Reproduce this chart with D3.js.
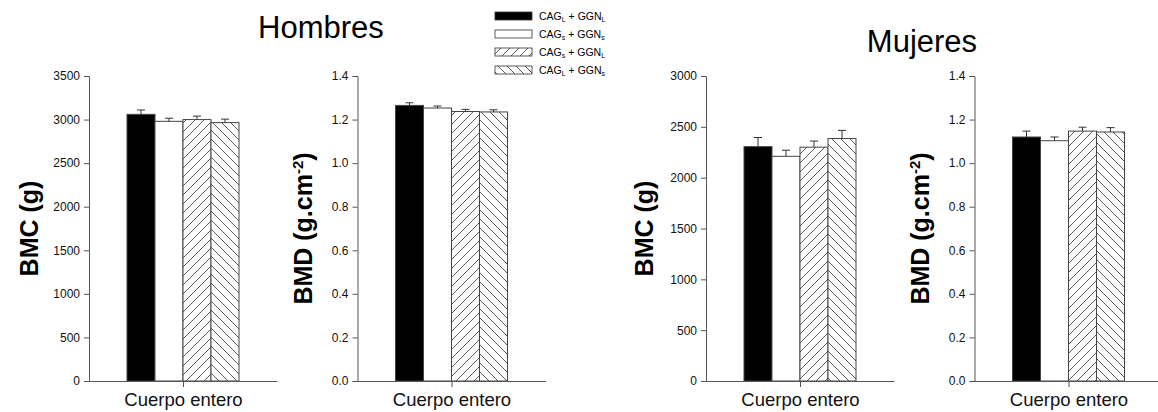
<!DOCTYPE html>
<html>
<head>
<meta charset="utf-8">
<script src="https://cdn.jsdelivr.net/npm/d3@7"></script>
<style>
  body { margin: 0; background: #fff; }
  svg { display: block; font-family: "Liberation Sans", Arial, sans-serif; }
</style>
</head>
<body>
<svg id="chart" width="1158" height="412"></svg>
<script>
// Genotype groups (legend order)
const groups = ["CAGL_GGNL", "CAGs_GGNs", "CAGs_GGNL", "CAGL_GGNs"];
const groupLabels = [["CAG", "L", " + GGN", "L"], ["CAG", "s", " + GGN", "s"], ["CAG", "s", " + GGN", "L"], ["CAG", "L", " + GGN", "s"]];
const category = "Cuerpo entero";

// Hombres — whole body
const menBMC = [3060, 2980, 3000, 2965];
const menBMCerr = [50, 35, 40, 40];
const menBMD = [1.265, 1.253, 1.237, 1.235];
const menBMDerr = [0.012, 0.009, 0.010, 0.010];

// Mujeres — whole body
const womenBMC = [2305, 2210, 2300, 2385];
const womenBMCerr = [90, 60, 60, 80];
const womenBMD = [1.120, 1.103, 1.147, 1.143];
const womenBMDerr = [0.027, 0.017, 0.018, 0.020];

// Axis ticks
const bmcTicksMen = [0, 500, 1000, 1500, 2000, 2500, 3000, 3500];
const bmcTicksWomen = [0, 500, 1000, 1500, 2000, 2500, 3000];
const bmdTicks = [0, 0.2, 0.4, 0.6, 0.8, 1.0, 1.2, 1.4];

const svg = d3.select("#chart");
const defs = svg.append("defs");

// Hatch patterns
function hatch(id, dir) {
  const s = 9;
  const p = defs.append("pattern")
    .attr("id", id).attr("patternUnits", "userSpaceOnUse")
    .attr("width", s).attr("height", s);
  p.append("rect").attr("width", s).attr("height", s).attr("fill", "#fff");
  const d = dir > 0
    ? `M0,${s} L${s},0 M${-s / 2},${s / 2} L${s / 2},${-s / 2} M${s / 2},${s * 1.5} L${s * 1.5},${s / 2}`
    : `M0,0 L${s},${s} M${-s / 2},${s / 2} L${s / 2},${s * 1.5} M${s / 2},${-s / 2} L${s * 1.5},${s / 2}`;
  p.append("path").attr("d", d).attr("stroke", "#333").attr("stroke-width", 0.8);
}
hatch("hatchUp", 1);
hatch("hatchDown", -1);
const fills = ["#000", "#fff", "url(#hatchUp)", "url(#hatchDown)"];

const axisColor = "#555";
const plotTop = 76, plotBottom = 381, axisW = 188, groupW = 112;

function panel(x0, values, errs, maxV, ticks, fmt, labelParts, labelX) {
  const g = svg.append("g");
  const y = d3.scaleLinear().domain([0, maxV]).range([plotBottom, plotTop]);
  const cx = x0 + axisW / 2;
  const xb = d3.scaleBand().domain(groups).range([cx - groupW / 2, cx + groupW / 2]).padding(0);

  // bars
  g.selectAll("rect.bar").data(values).join("rect")
    .attr("class", "bar")
    .attr("x", (d, i) => xb(groups[i]))
    .attr("y", d => y(d))
    .attr("width", xb.bandwidth())
    .attr("height", d => plotBottom - y(d))
    .attr("fill", (d, i) => fills[i])
    .attr("stroke", "#444").attr("stroke-width", 1);

  // error bars (upper only)
  const eb = g.selectAll("g.err").data(values).join("g").attr("class", "err");
  eb.append("line")
    .attr("x1", (d, i) => xb(groups[i]) + xb.bandwidth() / 2)
    .attr("x2", (d, i) => xb(groups[i]) + xb.bandwidth() / 2)
    .attr("y1", d => y(d))
    .attr("y2", (d, i) => y(d + errs[i]))
    .attr("stroke", "#333").attr("stroke-width", 1);
  eb.append("line")
    .attr("x1", (d, i) => xb(groups[i]) + xb.bandwidth() / 2 - 4)
    .attr("x2", (d, i) => xb(groups[i]) + xb.bandwidth() / 2 + 4)
    .attr("y1", (d, i) => y(d + errs[i]))
    .attr("y2", (d, i) => y(d + errs[i]))
    .attr("stroke", "#333").attr("stroke-width", 1);

  // y axis
  const ya = g.append("g").attr("transform", `translate(${x0},0)`)
    .call(d3.axisLeft(y).tickValues(ticks).tickFormat(fmt).tickSize(5).tickPadding(4));
  ya.select(".domain").attr("stroke", axisColor);
  ya.selectAll(".tick line").attr("stroke", axisColor);
  ya.selectAll(".tick text").attr("font-size", 12).attr("fill", "#111")
    .attr("font-family", "Liberation Sans, Arial, sans-serif");

  // x axis
  const xs = d3.scalePoint().domain([category]).range([x0, x0 + axisW]).padding(0.5);
  const xa = g.append("g").attr("transform", `translate(0,${plotBottom})`)
    .call(d3.axisBottom(xs).tickSize(6).tickSizeOuter(0).tickPadding(6));
  xa.select(".domain").attr("stroke", axisColor);
  xa.selectAll(".tick line").attr("stroke", axisColor);
  xa.selectAll(".tick text").attr("font-size", 18.5).attr("fill", "#111")
    .attr("font-family", "Liberation Sans, Arial, sans-serif");

  // y label
  const t = g.append("text")
    .attr("transform", `translate(${labelX},${(plotTop + plotBottom) / 2}) rotate(-90)`)
    .attr("text-anchor", "middle")
    .attr("font-size", 25).attr("font-weight", "bold").attr("fill", "#000");
  t.append("tspan").text(labelParts[0]);
  if (labelParts[1]) {
    t.append("tspan").attr("font-size", 15).attr("dy", -9).text(labelParts[1]);
    t.append("tspan").attr("dy", 9).text(labelParts[2]);
  }
}

const fmt0 = d3.format("d");
const fmt1 = d3.format(".1f");
panel(89, menBMC, menBMCerr, 3500, bmcTicksMen, fmt0, ["BMC (g)"], 38);
panel(357.5, menBMD, menBMDerr, 1.4, bmdTicks, fmt1, ["BMD (g.cm", "-2", ")"], 312);
panel(706, womenBMC, womenBMCerr, 3000, bmcTicksWomen, fmt0, ["BMC (g)"], 653);
panel(974.5, womenBMD, womenBMDerr, 1.4, bmdTicks, fmt1, ["BMD (g.cm", "-2", ")"], 929);

// titles
svg.append("text").attr("x", 321).attr("y", 38).attr("text-anchor", "middle")
  .attr("font-size", 31).attr("fill", "#000").text("Hombres");
svg.append("text").attr("x", 922).attr("y", 52).attr("text-anchor", "middle")
  .attr("font-size", 31).attr("fill", "#000").text("Mujeres");

// legend
const legendY = [16, 34, 52, 70];
const lg = svg.append("g");
groups.forEach((k, i) => {
  lg.append("rect").attr("x", 495).attr("y", legendY[i] - 4).attr("width", 37).attr("height", 8)
    .attr("fill", fills[i]).attr("stroke", "#333").attr("stroke-width", 0.8);
  const t = lg.append("text").attr("x", 539).attr("y", legendY[i] + 4)
    .attr("font-size", 10.5).attr("fill", "#000");
  const p = groupLabels[i];
  t.append("tspan").text(p[0]);
  t.append("tspan").attr("font-size", 7).attr("dy", 2).text(p[1]);
  t.append("tspan").attr("dy", -2).text(p[2]);
  t.append("tspan").attr("font-size", 7).attr("dy", 2).text(p[3]);
});
</script>
</body>
</html>
